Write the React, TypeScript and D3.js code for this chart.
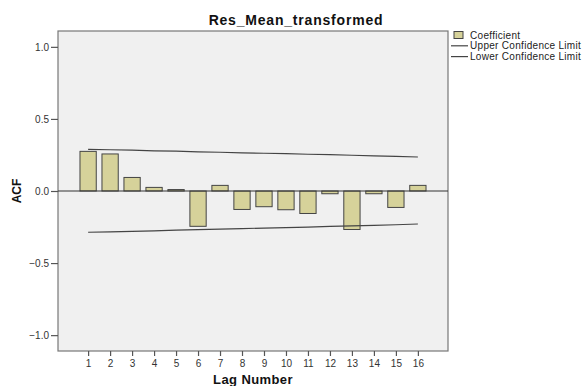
import React, { useEffect, useRef } from "react";
import * as d3 from "d3";

const lags = [1, 2, 3, 4, 5, 6, 7, 8, 9, 10, 11, 12, 13, 14, 15, 16];
const coefficients = [
  0.275, 0.257, 0.094, 0.025, 0.01, -0.245, 0.039, -0.128, -0.109, -0.13,
  -0.156, -0.019, -0.267, -0.019, -0.114, 0.039,
];
const upperLimit = [
  0.289, 0.286, 0.283, 0.279, 0.276, 0.272, 0.269, 0.265, 0.262, 0.259, 0.255,
  0.252, 0.248, 0.244, 0.24, 0.236,
];
const lowerLimit = [
  -0.286, -0.283, -0.28, -0.276, -0.272, -0.268, -0.264, -0.261, -0.257,
  -0.254, -0.25, -0.246, -0.242, -0.238, -0.234, -0.229,
];
const yTicks = [-1.0, -0.5, 0.0, 0.5, 1.0];
const legendItems = ["Coefficient", "Upper Confidence Limit", "Lower Confidence Limit"];

const W = 582;
const H = 386;
const margin = { top: 31, right: 134, bottom: 35, left: 58 };
const FONT = "'Liberation Sans', Arial, sans-serif";

const App: React.FC = () => {
  const svgRef = useRef<SVGSVGElement>(null);

  useEffect(() => {
    const svg = d3.select(svgRef.current);
    svg.selectAll("*").remove();

    const x0 = margin.left;
    const x1 = W - margin.right;
    const y0 = margin.top;
    const y1 = H - margin.bottom;

    const x = d3.scaleLinear().domain([-0.37, 17.37]).range([x0, x1]);
    const y = d3.scaleLinear().domain([-1.11, 1.11]).range([y1, y0]);
    const step = x(1) - x(0);
    const barW = step * 0.74;

    svg
      .append("rect")
      .attr("x", x0)
      .attr("y", y0)
      .attr("width", x1 - x0)
      .attr("height", y1 - y0)
      .attr("fill", "#f0f0f0")
      .attr("stroke", "#777")
      .attr("stroke-width", 1.2);

    // bars
    svg
      .selectAll(".bar")
      .data(lags)
      .enter()
      .append("rect")
      .attr("class", "bar")
      .attr("x", (d) => x(d) - barW / 2)
      .attr("y", (_, i) => y(Math.max(0, coefficients[i])))
      .attr("width", barW)
      .attr("height", (_, i) => Math.abs(y(coefficients[i]) - y(0)))
      .attr("fill", "#d6d29a")
      .attr("stroke", "#444")
      .attr("stroke-width", 1);

    // zero line
    svg
      .append("line")
      .attr("x1", x0)
      .attr("x2", x1)
      .attr("y1", y(0))
      .attr("y2", y(0))
      .attr("stroke", "#333")
      .attr("stroke-width", 1);

    const line = d3
      .line<number>()
      .x((_, i) => x(lags[i]))
      .y((d) => y(d));

    [upperLimit, lowerLimit].forEach((vals) => {
      svg
        .append("path")
        .attr("d", line(vals))
        .attr("fill", "none")
        .attr("stroke", "#444")
        .attr("stroke-width", 1.2);
    });

    // y axis
    svg
      .append("g")
      .attr("transform", `translate(${x0},0)`)
      .call(
        d3
          .axisLeft(y)
          .tickValues(yTicks)
          .tickSize(7)
          .tickPadding(2)
          .tickFormat(d3.format(".1f"))
      )
      .call((g) => g.select(".domain").remove())
      .call((g) => g.selectAll("line").attr("stroke", "#555").attr("stroke-width", 1.2))
      .call((g) =>
        g
          .selectAll("text")
          .attr("fill", "#333")
          .style("font-family", FONT)
          .style("font-size", "10px")
      );

    // x axis
    svg
      .append("g")
      .attr("transform", `translate(0,${y1})`)
      .call(d3.axisBottom(x).tickValues(lags).tickSize(5).tickPadding(4).tickFormat(d3.format("d")))
      .call((g) => g.select(".domain").remove())
      .call((g) => g.selectAll("line").attr("stroke", "#555").attr("stroke-width", 1.2))
      .call((g) =>
        g
          .selectAll("text")
          .attr("fill", "#333")
          .style("font-family", FONT)
          .style("font-size", "10px")
      );

    // title
    svg
      .append("text")
      .attr("x", 296)
      .attr("y", 25)
      .attr("text-anchor", "middle")
      .style("font-family", FONT)
      .style("font-size", "14px")
      .style("font-weight", "bold")
      .style("letter-spacing", "0.8px")
      .attr("fill", "#111")
      .text("Res_Mean_transformed");

    // axis titles
    svg
      .append("text")
      .attr("transform", `translate(21,${y(0)}) rotate(-90)`)
      .attr("text-anchor", "middle")
      .style("font-family", FONT)
      .style("font-size", "12px")
      .style("font-weight", "bold")
      .attr("fill", "#111")
      .text("ACF");

    svg
      .append("text")
      .attr("x", (x0 + x1) / 2)
      .attr("y", 384)
      .attr("text-anchor", "middle")
      .style("font-family", FONT)
      .style("font-size", "13px")
      .style("font-weight", "bold")
      .style("letter-spacing", "0.4px")
      .attr("fill", "#111")
      .text("Lag Number");

    // legend
    const lg = svg.append("g").attr("transform", `translate(451,35)`);
    legendItems.forEach((label, i) => {
      const cy = i * 10.8;
      if (i === 0) {
        lg.append("rect")
          .attr("x", 3)
          .attr("y", cy - 3.5)
          .attr("width", 9)
          .attr("height", 7)
          .attr("fill", "#d6d29a")
          .attr("stroke", "#444");
      } else {
        lg.append("line")
          .attr("x1", 0)
          .attr("x2", 17)
          .attr("y1", cy)
          .attr("y2", cy)
          .attr("stroke", "#444")
          .attr("stroke-width", 1.2);
      }
      lg.append("text")
        .attr("x", 19)
        .attr("y", cy + 3.5)
        .style("font-family", FONT)
        .style("font-size", "10px")
        .style("letter-spacing", "0.3px")
        .attr("fill", "#222")
        .text(label);
    });
  }, []);

  return (
    <svg
      ref={svgRef}
      width={W}
      height={H}
      style={{ position: "absolute", left: 0, top: 0, background: "#fff" }}
    />
  );
};

export default App;
